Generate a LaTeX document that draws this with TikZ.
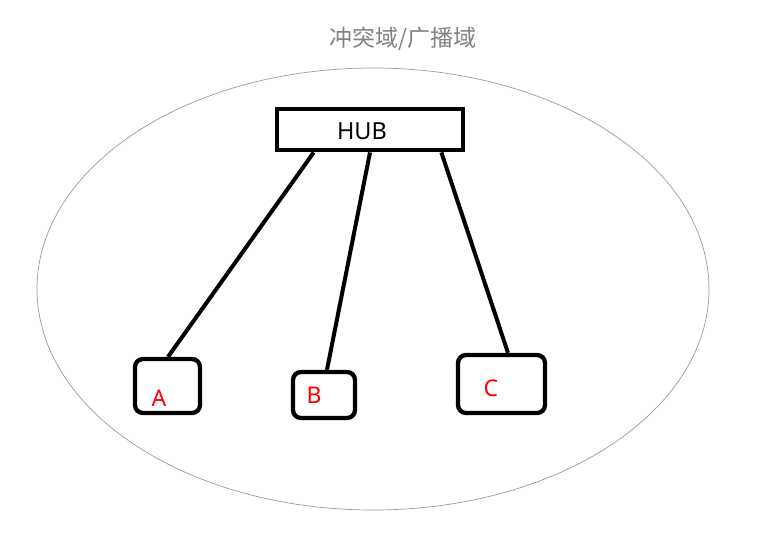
\documentclass[tikz,border=0pt]{standalone}
\usepackage{fontspec}
\setmainfont{Noto Sans}
\newfontfamily\cjk{Noto Sans CJK SC}
\usetikzlibrary{calc}
\definecolor{titlegray}{RGB}{130,130,130}
\definecolor{labelred}{RGB}{255,0,0}
\tikzset{
  hubbox/.style={draw=black, line width=4.8pt, minimum width=186pt, minimum height=41pt, inner sep=0pt},
  hostbox/.style={draw=black, line width=4.3pt, rounded corners=8pt, inner sep=0pt},
  link/.style={draw=black, line width=4pt},
  hostlabel/.style={text=labelred, font=\fontsize{23}{27}\selectfont, inner sep=0pt},
  cdomain/.style={draw=titlegray!80, line width=0.7pt}
}
\begin{document}
\begin{tikzpicture}[x=1pt,y=1pt]
\useasboundingbox (0,0) rectangle (782,-539);
\node[draw=none] (dom) at (373,-289) {};
\draw[cdomain] (dom) ellipse [x radius=336, y radius=221];
\node[text=titlegray, font=\cjk\fontsize{23}{27}\selectfont] (title) at (403,-39) {冲突域/广播域};
\node[hubbox] (hub) at (370,-129.5) {};
\node[font=\fontsize{23.5}{27}\selectfont, inner sep=0pt] (hubt) at (362,-131) {HUB};
\node[hostbox, minimum width=65pt, minimum height=54pt] (A) at (167.5,-386) {};
\node[hostbox, minimum width=62pt, minimum height=46pt] (B) at (324,-395) {};
\node[hostbox, minimum width=87pt, minimum height=58pt] (C) at (501.5,-384) {};
\node[hostlabel] (la) at (159,-398) {A};
\node[hostlabel] (lb) at (314,-395) {B};
\node[hostlabel] (lc) at (491,-388) {C};
\draw[link] ($(hub.south west)!0.205!(hub.south east)$) -- ($(A.north west)!0.507!(A.north east)$);
\draw[link] ($(hub.south west)!0.5!(hub.south east)$) -- ($(B.north west)!0.545!(B.north east)$);
\draw[link] ($(hub.south west)!0.874!(hub.south east)$) -- ($(C.north west)!0.571!(C.north east)$);
\end{tikzpicture}
\end{document}
